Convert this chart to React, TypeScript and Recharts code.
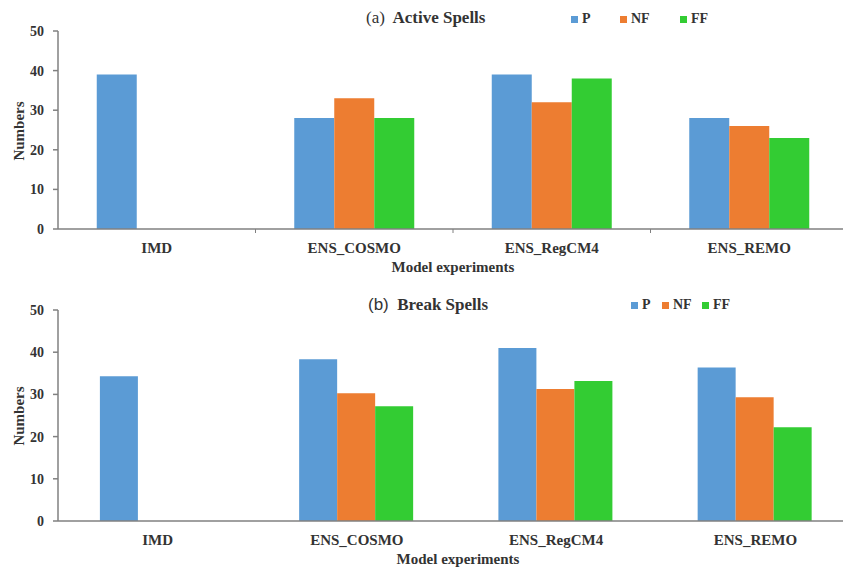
import { BarChart, Bar, XAxis, YAxis } from "recharts";

const categories = ["IMD", "ENS_COSMO", "ENS_RegCM4", "ENS_REMO"];
const activeP = [39, 28, 39, 28];
const activeNF = [null, 33, 32, 26];
const activeFF = [null, 28, 38, 23];
const breakP = [34.3, 38.3, 41, 36.4];
const breakNF = [null, 30.3, 31.3, 29.3];
const breakFF = [null, 27.2, 33.2, 22.2];
const yTicks = [0, 10, 20, 30, 40, 50];

const series = [
  { key: "P", color: "#5b9bd5" },
  { key: "NF", color: "#ed7d31" },
  { key: "FF", color: "#33cc33" },
];

const activeData = categories.map((name, i) => ({
  name,
  P: activeP[i],
  NF: activeNF[i],
  FF: activeFF[i],
}));
const breakData = categories.map((name, i) => ({
  name,
  P: breakP[i],
  NF: breakNF[i],
  FF: breakFF[i],
}));

const serif = "Liberation Serif, DejaVu Serif, serif";
const axisColor = "#808080";
const textColor = "#333";

function CatTick(props: any) {
  const { x, y, payload, index, band, showTicks } = props;
  return (
    <g>
      {showTicks && index > 0 && (
        <line x1={x - band / 2} x2={x - band / 2} y1={y - 8} y2={y - 4} stroke={axisColor} />
      )}
      <text
        x={x}
        y={y + 16}
        textAnchor="middle"
        style={{ fontFamily: serif, fontWeight: "bold", fontSize: 15 }}
        fill={textColor}
      >
        {payload.value}
      </text>
    </g>
  );
}

interface PanelProps {
  data: Array<Record<string, any>>;
  width: number;
  height: number;
  top: number;
  bottom: number;
  gap: number;
  band: number;
  showTicks: boolean;
}

function Panel({ data, width, height, top, bottom, gap, band, showTicks }: PanelProps) {
  return (
    <BarChart
      width={width}
      height={height}
      data={data}
      margin={{ top, right: 2, left: 0, bottom: 0 }}
      barGap={0}
      barCategoryGap={gap}
      style={{ fontFamily: serif }}
    >
      <XAxis
        dataKey="name"
        height={bottom}
        stroke={axisColor}
        strokeWidth={1.5}
        tickLine={false}
        interval={0}
        tick={<CatTick band={band} showTicks={showTicks} />}
      />
      <YAxis
        width={58}
        domain={[0, 50]}
        ticks={yTicks}
        stroke={axisColor}
        strokeWidth={1.5}
        tickSize={5}
        tickMargin={9}
        tick={{ style: { fontFamily: serif, fontWeight: "bold", fontSize: 14 }, fill: textColor }}
      />
      {series.map((s) => (
        <Bar key={s.key} dataKey={s.key} fill={s.color} isAnimationActive={false} />
      ))}
    </BarChart>
  );
}

function Legend({ left, top, gaps }: { left: number; top: number; gaps: number[] }) {
  let x = left;
  return (
    <>
      {series.map((s, i) => {
        const pos = x;
        x += gaps[i] || 0;
        return (
          <div
            key={s.key}
            style={{
              position: "absolute",
              left: pos,
              top,
              display: "flex",
              alignItems: "center",
              fontFamily: serif,
              fontWeight: "bold",
              fontSize: 14,
              color: textColor,
            }}
          >
            <span style={{ width: 7, height: 7, background: s.color, marginRight: 4 }} />
            {s.key}
          </div>
        );
      })}
    </>
  );
}

const label: React.CSSProperties = {
  position: "absolute",
  fontFamily: serif,
  fontWeight: "bold",
  fontSize: 15,
  color: textColor,
  whiteSpace: "nowrap",
};

export default function App() {
  return (
    <div
      style={{
        position: "absolute",
        left: 0,
        top: 0,
        width: 843,
        height: 569,
        overflow: "hidden",
        background: "#fff",
      }}
    >
      {/* (a) active spells */}
      <div style={{ position: "absolute", left: 0, top: 0 }}>
        <Panel data={activeData} width={850} height={280} top={31} bottom={51} gap={38.75} band={197.5} showTicks />
      </div>
      <div style={{ ...label, left: 366, top: 8, fontSize: 17 }}>
        <span style={{ fontWeight: "normal" }}>(a)</span>&nbsp; Active Spells
      </div>
      <Legend left={571} top={11} gaps={[49, 60]} />
      <div style={{ ...label, left: 453, top: 259, transform: "translateX(-50%)" }}>Model experiments</div>
      <div
        style={{
          ...label,
          left: 19,
          top: 131,
          transform: "translate(-50%, -50%) rotate(-90deg)",
        }}
      >
        Numbers
      </div>

      {/* (b) break spells */}
      <div style={{ position: "absolute", left: 0, top: 290 }}>
        <Panel data={breakData} width={857} height={279} top={20} bottom={48} gap={41.9} band={199.25} showTicks={false} />
      </div>
      <div style={{ ...label, left: 368, top: 295, fontSize: 17 }}>
        <span style={{ fontWeight: "normal", fontFamily: "Liberation Sans, Arial, sans-serif" }}>(b)</span>&nbsp; Break Spells
      </div>
      <Legend left={631} top={297} gaps={[31, 40]} />
      <div style={{ ...label, left: 458, top: 551, transform: "translateX(-50%)" }}>Model experiments</div>
      <div
        style={{
          ...label,
          left: 19,
          top: 416,
          transform: "translate(-50%, -50%) rotate(-90deg)",
        }}
      >
        Numbers
      </div>
    </div>
  );
}
